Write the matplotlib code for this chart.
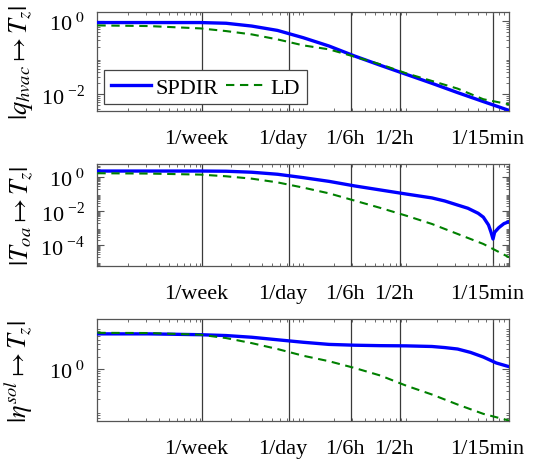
import numpy as np
import matplotlib
matplotlib.use("Agg")
import matplotlib.pyplot as plt
import matplotlib.transforms as mtransforms
from matplotlib.ticker import LogLocator, NullFormatter, FixedLocator, FixedFormatter

plt.rcParams['font.family'] = ['Liberation Serif', 'DejaVu Serif']
plt.rcParams['mathtext.fontset'] = 'stix'

# ---------------- data ----------------
# frequency axis in rad/s
omega = [1e-6, 3.16e-6, 1e-5, 1.78e-5, 3.16e-5, 5.62e-5, 1e-4, 1.78e-4,
         3.16e-4, 5.62e-4, 1e-3, 1.78e-3, 3.16e-3, 5.62e-3, 1e-2]

q_spdir = [0.93, 0.93, 0.93, 0.89, 0.745, 0.566, 0.357, 0.211, 0.112,
           0.0624, 0.0353, 0.0200, 0.0111, 0.0063, 0.0036]
q_ld = [0.776, 0.745, 0.643, 0.543, 0.440, 0.321, 0.220, 0.171, 0.1076,
        0.0664, 0.0376, 0.0232, 0.0143, 0.0073, 0.0053]

omega_toa_spdir = [1e-6, 3.16e-6, 1e-5, 1.78e-5, 3.16e-5, 5.62e-5, 1e-4,
                   1.78e-4, 3.16e-4, 5.62e-4, 1e-3, 1.78e-3, 2.37e-3,
                   3.16e-3, 3.98e-3, 5.01e-3, 5.62e-3, 6.31e-3, 6.68e-3,
                   6.98e-3, 7.24e-3, 7.94e-3, 8.91e-3, 1e-2]
toa_spdir = [2.40, 2.40, 2.40, 2.34, 2.04, 1.55, 0.977, 0.589, 0.316,
             0.182, 0.105, 0.0617, 0.0407, 0.0234, 0.0151, 0.0076, 0.0045,
             0.00155, 0.000575, 0.000229, 0.000575, 0.00107, 0.00186, 0.00245]
toa_ld = [1.78, 1.70, 1.48, 1.175, 0.851, 0.513, 0.251, 0.115, 0.0427,
          0.0158, 0.0055, 0.00178, 0.000457, 0.000117, 1.9e-5]

omega_sol_spdir = [1e-6, 3.16e-6, 1e-5, 1.78e-5, 3.16e-5, 5.62e-5, 1e-4,
                   1.78e-4, 3.16e-4, 5.62e-4, 1e-3, 1.78e-3, 2.37e-3,
                   3.16e-3, 4.22e-3, 5.62e-3, 7.5e-3, 1e-2]
sol_spdir = [6.92, 6.92, 6.61, 6.31, 5.75, 5.01, 4.37, 3.89, 3.72, 3.63,
             3.59, 3.47, 3.27, 3.02, 2.51, 1.95, 1.41, 1.15]
sol_ld = [7.33, 7.24, 6.61, 5.50, 4.17, 3.02, 2.09, 1.55, 1.07, 0.708,
          0.407, 0.251, 0.145, 0.0871, 0.0603]

# x tick marks: periods in seconds -> rad/s
periods_s = [604800, 86400, 21600, 7200, 900]
xtick_labels = ['1/week', '1/day', '1/6h', '1/2h', '1/15min']
xtick_pos = [2 * np.pi / p for p in periods_s]

ylabels = [r'$|q_{hvac} \mapsto T_z|$', r'$|T_{oa} \mapsto T_z|$',
           r'$|\eta^{sol} \mapsto T_z|$']
yticks = [[1, 1e-2], [1, 1e-2, 1e-4], [1]]
ytick_labels = [['10$^{\\ 0}$', '10$^{\\ \\mathregular{-2}}$'],
                ['10$^{\\ 0}$', '10$^{\\ \\mathregular{-2}}$', '10$^{\\ \\mathregular{-4}}$'],
                ['10$^{\\ 0}$']]
ylims = [(3.47e-3, 1.8), (5.6e-6, 6.3), (0.058, 15.2)]

# ---------------- figure ----------------
fig = plt.figure(figsize=(5.41, 4.60), dpi=100)
rects = [[0.180, 0.7565, 0.761, 0.215],
         [0.180, 0.419, 0.761, 0.2224],
         [0.180, 0.082, 0.761, 0.2213]]
series = [(omega, q_spdir, omega, q_ld),
          (omega_toa_spdir, toa_spdir, omega, toa_ld),
          (omega_sol_spdir, sol_spdir, omega, sol_ld)]

blue = '#0000ff'
green = '#008000'
spine_col = '#555555'
shift = mtransforms.ScaledTranslation(-6 / 100, 0, fig.dpi_scale_trans)

for i, r in enumerate(rects):
    ax = fig.add_axes(r)
    xs, ys, xl, yl = series[i]
    ax.set_xscale('log')
    ax.set_yscale('log')
    for xp in xtick_pos:
        ax.axvline(xp, color='#3a3a3a', lw=0.9, zorder=1)
    ax.plot(xs, ys, color=blue, lw=2.4, label='SPDIR', zorder=3)
    ax.plot(xl, yl, color=green, lw=1.5, ls=(0, (4, 2.7)), label='LD', zorder=4)
    ax.set_xlim(1e-6, 1e-2)
    ax.set_ylim(*ylims[i])
    ax.xaxis.set_major_locator(FixedLocator(xtick_pos))
    ax.xaxis.set_major_formatter(FixedFormatter(xtick_labels))
    ax.xaxis.set_minor_locator(LogLocator(base=10, subs=np.arange(1, 10), numticks=100))
    ax.xaxis.set_minor_formatter(NullFormatter())
    ax.yaxis.set_major_locator(FixedLocator(yticks[i]))
    ax.yaxis.set_major_formatter(FixedFormatter(ytick_labels[i]))
    ax.yaxis.set_minor_locator(LogLocator(base=10, subs=np.arange(2, 10), numticks=100))
    ax.yaxis.set_minor_formatter(NullFormatter())
    ax.tick_params(which='both', direction='in', top=True, right=True,
                   color=spine_col, labelsize=16)
    ax.tick_params(which='major', length=5, width=0.8)
    ax.tick_params(which='minor', length=2.5, width=0.6)
    ax.tick_params(axis='x', which='major', length=0, pad=13)
    ax.tick_params(axis='y', which='major', pad=9)
    for lab in ax.get_xticklabels():
        lab.set_transform(lab.get_transform() + shift)
    for s in ax.spines.values():
        s.set_color(spine_col)
        s.set_linewidth(0.9)
    ax.set_ylabel(ylabels[i], fontsize=19)
    ax.yaxis.set_label_coords(-0.152, 0.5)
    if i == 0:
        leg = ax.legend(loc='lower left', ncol=2, fontsize=16, frameon=True,
                        fancybox=False, edgecolor='#444444', framealpha=1,
                        handlelength=1.8, handletextpad=0.2, columnspacing=0.35,
                        borderpad=0.3, borderaxespad=0.3)
        leg.get_frame().set_linewidth(0.9)

fig.savefig('out.png', dpi=100)
